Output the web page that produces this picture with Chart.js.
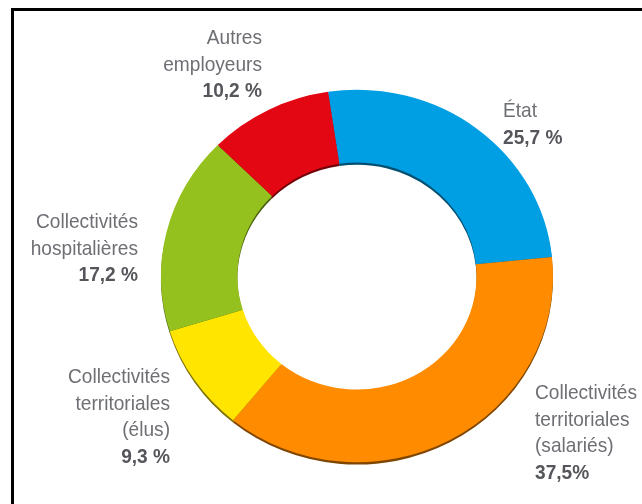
<!DOCTYPE html>
<html>
<head>
<meta charset="utf-8">
<script src="https://cdn.jsdelivr.net/npm/chart.js@4.4.1/dist/chart.umd.min.js"></script>
<style>
  html, body { margin: 0; padding: 0; background: #fff; }
  #wrap { position: relative; width: 642px; height: 504px; overflow: hidden; }
  #frame {
    position: absolute; left: 11px; top: 8px; right: -10px; bottom: -10px;
    border-top: 3px solid #000; border-left: 3px solid #000;
  }
  canvas { position: absolute; left: 0; top: 0; }
</style>
</head>
<body>
<div id="wrap">
  <div id="frame"></div>
  <canvas id="myChart" width="642" height="504"></canvas>
</div>
<script>
const categories = ['État', 'Collectivités territoriales (salariés)', 'Collectivités territoriales (élus)', 'Collectivités hospitalières', 'Autres employeurs'];
const nameLines = [
    ['État'],
    ['Collectivités', 'territoriales', '(salariés)'],
    ['Collectivités', 'territoriales', '(élus)'],
    ['Collectivités', 'hospitalières'],
    ['Autres', 'employeurs']
];
const shares = [25.7, 37.5, 9.3, 17.2, 10.2];
const pctSuffix = [' %', '%', ' %', ' %', ' %'];
const colors = ['#009fe3', '#ff8c00', '#ffe500', '#95c11f', '#e30613'];

// where each label block sits (first baseline) and how it is aligned
const labelPlace = [
    { x: 503, y: 117, align: 'left' },
    { x: 535, y: 399, align: 'left' },
    { x: 170, y: 383, align: 'right' },
    { x: 138, y: 228, align: 'right' },
    { x: 262, y: 44, align: 'right' }
];
const lineGap = 26.5;
const squash = 0.95;
const narrow = 0.91;   // condensed look for the label font

const fmt = (v, i) => v.toFixed(1).replace('.', ',') + pctSuffix[i];

// slightly flattened ring with a dark rim underneath
const ringPlugin = {
    id: 'ring',
    beforeDatasetsDraw(chart) {
        const ctx = chart.ctx;
        const meta = chart.getDatasetMeta(0);
        const { x, y } = meta.data[0];
        ctx.save();
        ctx.translate(x, y);
        ctx.scale(1, squash);
        ctx.translate(-x, -y);
        ctx.save();
        ctx.translate(0, 2.5);
        ctx.filter = 'brightness(0.5)';
        meta.data.forEach(arc => arc.draw(ctx));
        ctx.restore();
    },
    afterDatasetsDraw(chart) {
        chart.ctx.restore();
    }
};

const drawNarrow = (ctx, text, x, y) => {
    ctx.save();
    ctx.translate(x, y);
    ctx.scale(narrow, 1);
    ctx.fillText(text, 0, 0);
    ctx.restore();
};

const labelPlugin = {
    id: 'labels',
    afterDraw(chart) {
        const ctx = chart.ctx;
        ctx.save();
        ctx.textBaseline = 'alphabetic';
        shares.forEach((v, i) => {
            const p = labelPlace[i];
            ctx.textAlign = p.align;
            const lines = nameLines[i];
            ctx.font = '21px "Liberation Sans", Arial, sans-serif';
            ctx.fillStyle = '#6e6f74';
            lines.forEach((t, k) => drawNarrow(ctx, t, p.x, p.y + k * lineGap));
            ctx.font = 'bold 21px "Liberation Sans", Arial, sans-serif';
            ctx.fillStyle = '#55565b';
            drawNarrow(ctx, fmt(v, i), p.x, p.y + lines.length * lineGap);
        });
        ctx.restore();
    }
};

const dataConfig = {
    labels: categories,
    datasets: [{
        data: shares,
        backgroundColor: colors,
        borderWidth: 0,
        hoverOffset: 0,
        clip: false
    }]
};

const config = {
    type: 'doughnut',
    data: dataConfig,
    options: {
        responsive: false,
        animation: false,
        events: [],
        rotation: -8.5,
        cutout: '61%',
        layout: {
            padding: { left: 161, right: 89, top: 80, bottom: 32 }
        },
        plugins: {
            legend: { display: false },
            tooltip: { enabled: false }
        }
    },
    plugins: [ringPlugin, labelPlugin]
};

const myChart = new Chart(document.getElementById('myChart'), config);
</script>
</body>
</html>
